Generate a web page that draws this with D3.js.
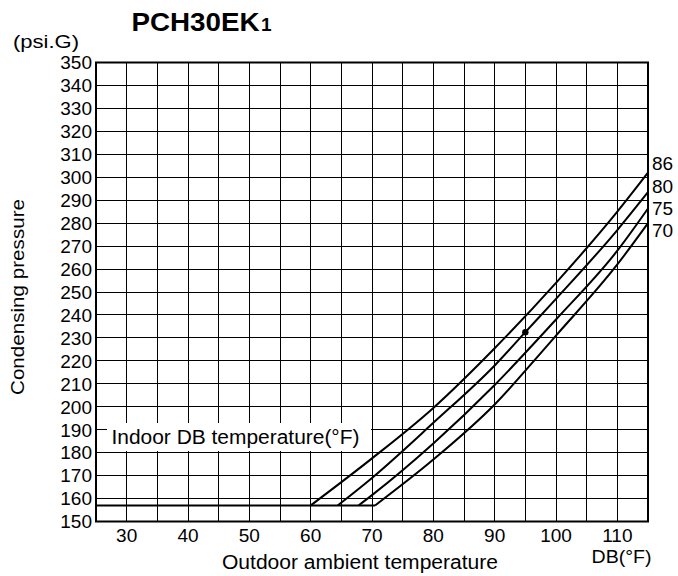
<!DOCTYPE html>
<html><head><meta charset="utf-8">
<script src="https://cdn.jsdelivr.net/npm/d3@7"></script>
<style>
html,body{margin:0;padding:0;background:#fff;}
svg{display:block;font-family:"Liberation Sans",Arial,sans-serif;}
</style></head>
<body>
<script>
// ---- data ----
const seriesNames = ["86", "80", "75", "70"];
const outdoor86 = [60, 70, 80, 90, 100, 110, 115];
const pressure86 = [157, 177.5, 199.5, 225.5, 254, 285, 302];
const outdoor80 = [64.4, 70, 80, 90, 95, 100, 110, 115];
const pressure80 = [157, 169, 193, 218, 232.5, 247, 277, 293.5];
const outdoor75 = [67.8, 70, 80, 90, 100, 110, 115];
const pressure75 = [157, 161.5, 184, 209.5, 238, 268, 286.4];
const outdoor70 = [70.5, 80, 90, 97.9, 100, 110, 115];
const pressure70 = [157, 177, 201, 224.6, 231, 262, 280];
const flatPressure = 157;
const flatFrom = 25;
const ratedPoint = [95, 232.5];
const xTicks = [30, 40, 50, 60, 70, 80, 90, 100, 110];
const yTicks = [150, 160, 170, 180, 190, 200, 210, 220, 230, 240, 250, 260, 270, 280, 290, 300, 310, 320, 330, 340, 350];
const xGrid = d3.range(30, 115, 5);
const yGrid = d3.range(160, 350, 10);

const W = 678, H = 576;
const svg = d3.select("body").append("svg").attr("width", W).attr("height", H);
const x = d3.scaleLinear().domain([25, 115]).range([96, 648]);
const y = d3.scaleLinear().domain([150, 350]).range([521.5, 62.5]);

// grid
const g = svg.append("g").attr("stroke", "#000").attr("stroke-width", 1).attr("shape-rendering", "crispEdges");
g.selectAll("line.v").data(xGrid).enter().append("line")
  .attr("x1", d => x(d)).attr("x2", d => x(d)).attr("y1", y(150)).attr("y2", y(350));
g.selectAll("line.h").data(yGrid).enter().append("line")
  .attr("x1", x(25)).attr("x2", x(115)).attr("y1", d => y(d)).attr("y2", d => y(d));

// label box
svg.append("rect").attr("x", 107).attr("y", 423).attr("width", 264).attr("height", 28).attr("fill", "#fff");
svg.append("text").attr("x", 111.5).attr("y", 444).attr("font-size", 19.5)
  .attr("textLength", 248).attr("lengthAdjust", "spacingAndGlyphs").text("Indoor DB temperature(°F)");

// curves
const series = [
  {name: "86", xs: outdoor86, ys: pressure86},
  {name: "80", xs: outdoor80, ys: pressure80},
  {name: "75", xs: outdoor75, ys: pressure75},
  {name: "70", xs: outdoor70, ys: pressure70}
];
const line = d3.line().x(d => x(d[0])).y(d => y(d[1])).curve(d3.curveMonotoneX);
svg.append("g").selectAll("path").data(series).enter().append("path")
  .attr("d", s => line(s.xs.map((v, i) => [v, s.ys[i]])))
  .attr("fill", "none").attr("stroke", "#000").attr("stroke-width", 2);
const flatTo = d3.max(series, s => s.xs[0]);
svg.append("line").attr("x1", x(flatFrom)).attr("x2", x(flatTo))
  .attr("y1", y(flatPressure)).attr("y2", y(flatPressure))
  .attr("stroke", "#000").attr("stroke-width", 2);

svg.append("circle").attr("cx", x(ratedPoint[0])).attr("cy", y(ratedPoint[1])).attr("r", 3.2).attr("fill", "#000");

// frame
svg.append("rect").attr("x", x(25)).attr("y", y(350)).attr("width", x(115) - x(25)).attr("height", y(150) - y(350))
  .attr("fill", "none").attr("stroke", "#000").attr("stroke-width", 2);

// axes labels
svg.selectAll("text.yt").data(yTicks).enter().append("text")
  .attr("x", 92).attr("y", d => y(d) + 6.8).attr("text-anchor", "end").attr("font-size", 19).text(d => d);
svg.selectAll("text.xt").data(xTicks).enter().append("text")
  .attr("x", d => x(d)).attr("y", 541.5).attr("text-anchor", "middle").attr("font-size", 19).text(d => d);

// series labels
const labelY = [170, 193, 215, 237];
svg.selectAll("text.sl").data(seriesNames).enter().append("text")
  .attr("x", 652).attr("y", (d, i) => labelY[i]).attr("font-size", 19).text(d => d);

// titles
svg.append("text").attr("x", 131.5).attr("y", 31).attr("font-size", 25).attr("font-weight", "bold")
  .attr("textLength", 128).attr("lengthAdjust", "spacingAndGlyphs").text("PCH30EK");
svg.append("text").attr("x", 261).attr("y", 31).attr("font-size", 19).attr("font-weight", "bold").text("1");
svg.append("text").attr("x", 13).attr("y", 48).attr("font-size", 19)
  .attr("textLength", 66).attr("lengthAdjust", "spacingAndGlyphs").text("(psi.G)");
svg.append("text").attr("x", 222).attr("y", 569).attr("font-size", 19.5)
  .attr("textLength", 276).attr("lengthAdjust", "spacingAndGlyphs").text("Outdoor ambient temperature");
svg.append("text").attr("x", 591.5).attr("y", 563).attr("font-size", 18.5)
  .attr("textLength", 60).attr("lengthAdjust", "spacingAndGlyphs").text("DB(°F)");
svg.append("text").attr("transform", "translate(24,297) rotate(-90)").attr("text-anchor", "middle").attr("font-size", 19)
  .attr("textLength", 196).attr("lengthAdjust", "spacingAndGlyphs").text("Condensing pressure");
</script>
</body></html>
